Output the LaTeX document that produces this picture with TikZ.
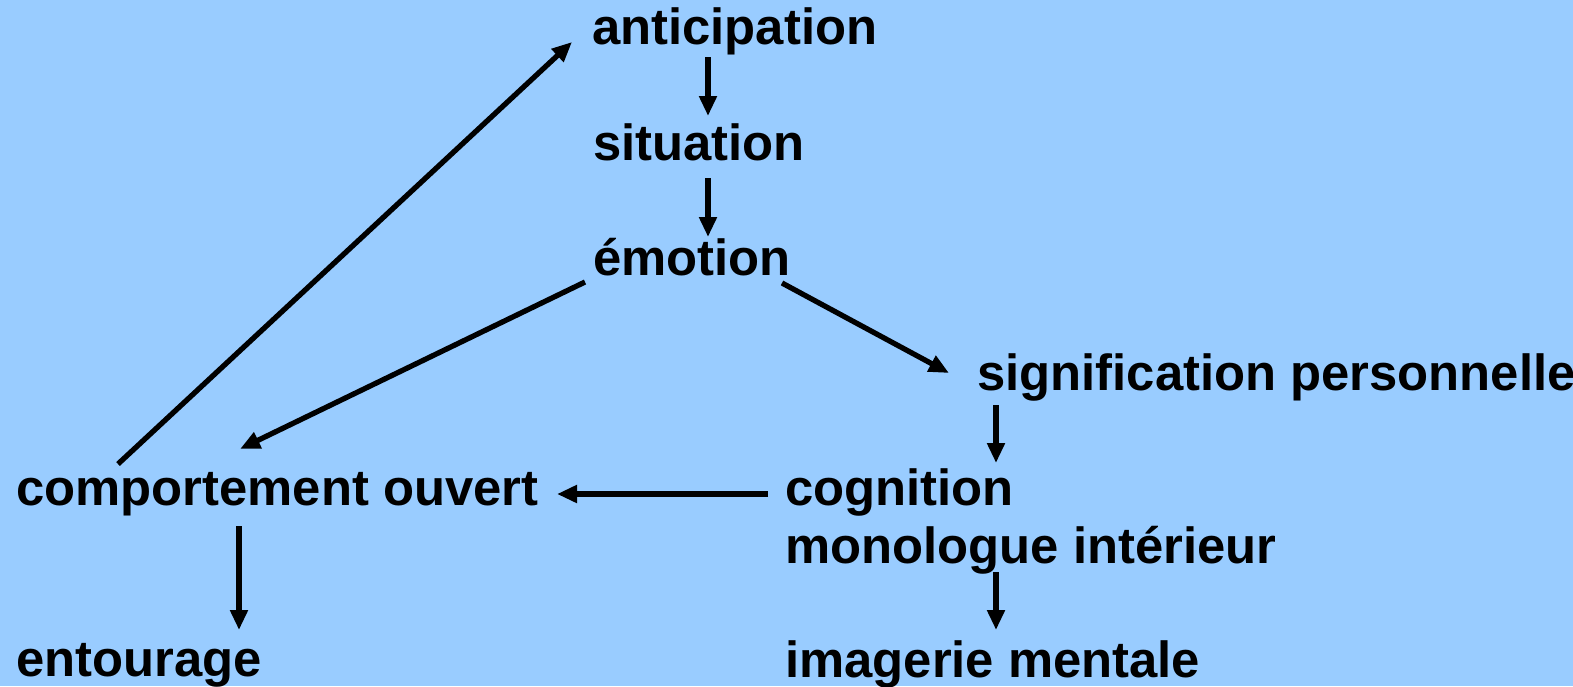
\documentclass[tikz,border=0pt]{standalone}
\usepackage{fontspec}
\setmainfont{Liberation Sans}
\usepackage{tikz}
\usetikzlibrary{arrows.meta}
\definecolor{slideblue}{HTML}{99CCFF}

\begin{document}
\begin{tikzpicture}
    [
      x=1pt, y=-1pt,
      step text/.style={inner sep=0pt, anchor=base west, font=\fontsize{50.8}{58}\selectfont\bfseries},
      my arrow/.style={-{Triangle[length=20pt, width=17pt]}, line width=5.3pt}
    ]
    \fill [slideblue] (0,0) rectangle (1573,686);
    \useasboundingbox (0,0) rectangle (1573,686);
    \node (anticipation) [step text] at (592,44) {anticipation};
    \node (situation) [step text] at (593,160) {situation};
    \node (emotion) [step text] at (593,275) {émotion};
    \node (signification) [step text] at (977,390) {signification personnelle};
    \node (comportement) [step text] at (16,505) {comportement ouvert};
    \node (cognition) [step text] at (785,505) {cognition};
    \node (monologue) [step text] at (785,563) {monologue intérieur};
    \node (entourage) [step text] at (16,676) {entourage};
    \node (imagerie) [step text] at (785,677) {imagerie mentale};
    \foreach \i/\a/\j/\b in {anticipation/{116,13}/situation/{115,-44},
                             situation/{115,18}/emotion/{115,-38},
                             emotion/{-8,7}/comportement/{224,-56},
                             emotion/{189,8}/signification/{-28,-17},
                             signification/{19,15}/cognition/{211,-42},
                             cognition/{-17,-11}/comportement/{541,-11},
                             comportement/{102,-41}/anticipation/{-20,-2},
                             comportement/{223,21}/entourage/{223,-46},
                             monologue/{211,9}/imagerie/{211,-47}}
      \draw [my arrow] ([shift={(\a)}]\i.base west) -- ([shift={(\b)}]\j.base west);
\end{tikzpicture}
\end{document}
